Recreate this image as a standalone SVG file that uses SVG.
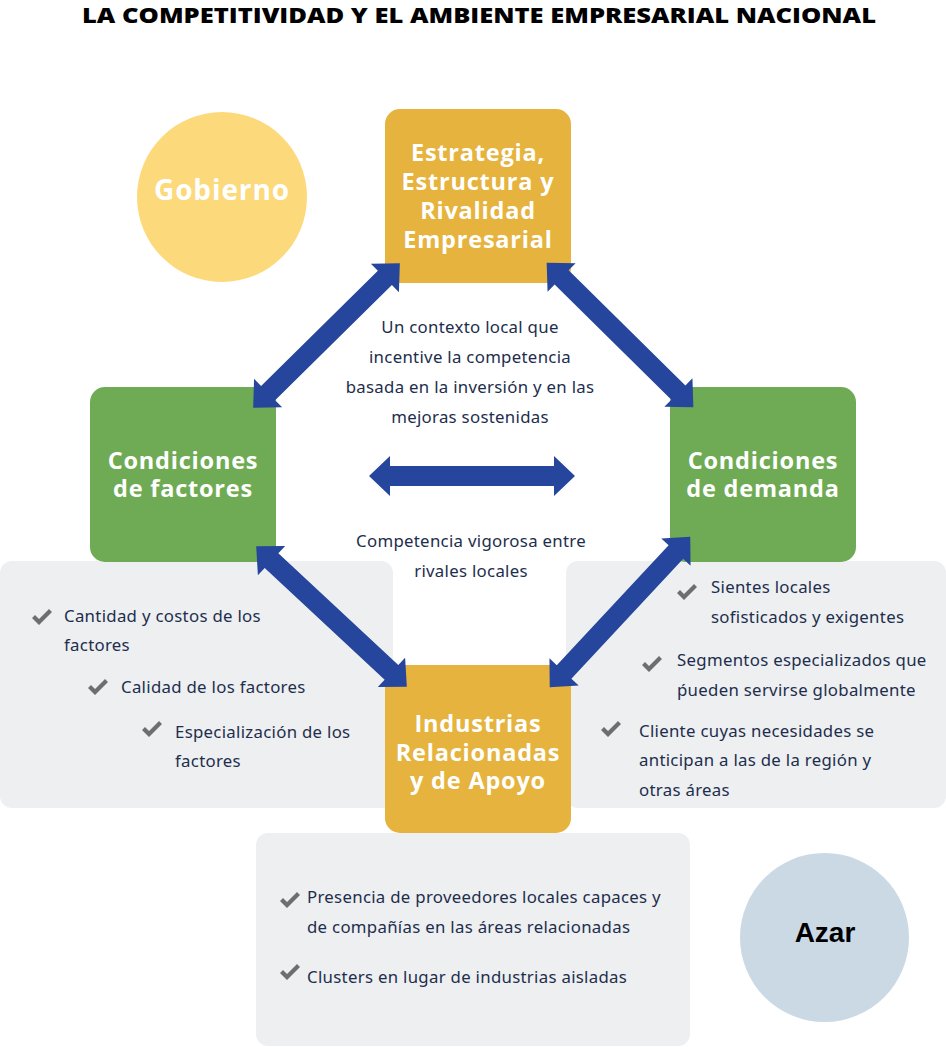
<svg xmlns="http://www.w3.org/2000/svg" xmlns:xlink="http://www.w3.org/1999/xlink" width="946" height="1047" viewBox="0 0 946 1047">
<style>
.title{font-family:"Open Sans","Liberation Sans",sans-serif;font-weight:800;font-size:21px;fill:#000}
.node-y{fill:#e5b33e}
.node-g{fill:#6fab55}
.ntxt{font-family:"Open Sans","Liberation Sans",sans-serif;font-weight:700;font-size:23.5px;fill:#fff;text-anchor:middle;letter-spacing:0.8px}
.panel{fill:#eeeff1}
.body{font-family:"Noto Sans","Open Sans",sans-serif;font-size:16.8px;fill:#1d2e4d;letter-spacing:0.3px}
.ctr{text-anchor:middle}
.chk{fill:#6e6e6e}
.arr{fill:#25469c}
</style>
<defs>
<path id="darr" d="M-103,0 L-82,-20 L-82,-10 L82,-10 L82,-20 L103,0 L82,20 L82,10 L-82,10 L-82,20 Z"/>
<path id="chk" d="M0,7 L3,4 L7,8 L17,-2 L20,1 L7,14 Z"/>
</defs>
<rect width="946" height="1047" fill="#fff"/>
<text class="title" x="82" y="23" textLength="794" lengthAdjust="spacingAndGlyphs">LA COMPETITIVIDAD Y EL AMBIENTE EMPRESARIAL NACIONAL</text>

<g id="panel-factores">
<rect class="panel" x="0" y="561" width="393" height="247" rx="12"/>
<use href="#chk" class="chk" transform="translate(32,611)"/>
<text class="body" x="64" y="622">Cantidad y costos de los</text>
<text class="body" x="64" y="651">factores</text>
<use href="#chk" class="chk" transform="translate(88,681)"/>
<text class="body" x="121" y="693">Calidad de los factores</text>
<use href="#chk" class="chk" transform="translate(142,723)"/>
<text class="body" x="175" y="738">Especialización de los</text>
<text class="body" x="175" y="767">factores</text>
</g>

<g id="panel-demanda">
<rect class="panel" x="566" y="561" width="380" height="247" rx="12"/>
<use href="#chk" class="chk" transform="translate(677,586)"/>
<text class="body" x="711" y="593">Sientes locales</text>
<text class="body" x="711" y="623">sofisticados y exigentes</text>
<use href="#chk" class="chk" transform="translate(642,658)"/>
<text class="body" x="677" y="666">Segmentos especializados que</text>
<text class="body" x="677" y="696">ṕueden servirse globalmente</text>
<use href="#chk" class="chk" transform="translate(601,723)"/>
<text class="body" x="639" y="737">Cliente cuyas necesidades se</text>
<text class="body" x="639" y="766">anticipan a las de la región y</text>
<text class="body" x="639" y="796">otras áreas</text>
</g>

<g id="panel-apoyo">
<rect class="panel" x="256" y="833" width="434" height="213" rx="12"/>
<use href="#chk" class="chk" transform="translate(280,894)"/>
<text class="body" x="307" y="903">Presencia de proveedores locales capaces y</text>
<text class="body" x="307" y="933">de compañías en las áreas relacionadas</text>
<use href="#chk" class="chk" transform="translate(280,966)"/>
<text class="body" x="307" y="983">Clusters en lugar de industrias aisladas</text>
</g>

<g id="node-estrategia">
<rect class="node-y" x="385" y="109" width="186" height="174" rx="15"/>
<text class="ntxt" x="478" y="161">Estrategia,</text>
<text class="ntxt" x="478" y="190">Estructura y</text>
<text class="ntxt" x="478" y="219">Rivalidad</text>
<text class="ntxt" x="478" y="248">Empresarial</text>
</g>

<g id="node-factores">
<rect class="node-g" x="90" y="387" width="186" height="175" rx="15"/>
<text class="ntxt" x="183" y="469">Condiciones</text>
<text class="ntxt" x="183" y="497">de factores</text>
</g>

<g id="node-demanda">
<rect class="node-g" x="670" y="387" width="186" height="175" rx="15"/>
<text class="ntxt" x="763" y="469">Condiciones</text>
<text class="ntxt" x="763" y="497">de demanda</text>
</g>

<g id="node-apoyo">
<rect class="node-y" x="385" y="665" width="186" height="168" rx="15"/>
<text class="ntxt" x="478" y="732">Industrias</text>
<text class="ntxt" x="478" y="761">Relacionadas</text>
<text class="ntxt" x="478" y="789">y de Apoyo</text>
</g>

<g id="node-gobierno">
<circle cx="222" cy="197" r="85" fill="#fcd97b"/>
<text x="222" y="200" text-anchor="middle" font-family="'Open Sans','Liberation Sans',sans-serif" font-weight="700" font-size="28" letter-spacing="0.9" fill="#fff">Gobierno</text>
</g>

<g id="node-azar">
<circle cx="824.5" cy="937.5" r="84.5" fill="#cbd9e5"/>
<text x="825" y="942" text-anchor="middle" font-family="'Liberation Sans',Arial,sans-serif" font-weight="700" font-size="28" fill="#000">Azar</text>
</g>

<g id="center-text">
<text class="body ctr" x="470" y="333">Un contexto local que</text>
<text class="body ctr" x="470" y="363">incentive la competencia</text>
<text class="body ctr" x="470" y="393">basada en la inversión y en las</text>
<text class="body ctr" x="470" y="423">mejoras sostenidas</text>
<text class="body ctr" x="471" y="547">Competencia vigorosa entre</text>
<text class="body ctr" x="471" y="577">rivales locales</text>
</g>

<g id="connectors" class="arr">
<use href="#darr" transform="translate(326.5,335.5) rotate(-44.6)"/>
<use href="#darr" transform="translate(620,335) rotate(44.6)"/>
<use href="#darr" transform="translate(331.5,616.5) rotate(43)"/>
<use href="#darr" transform="translate(620,612) rotate(-47)"/>
<use href="#darr" transform="translate(472,476)"/>
</g>
</svg>
